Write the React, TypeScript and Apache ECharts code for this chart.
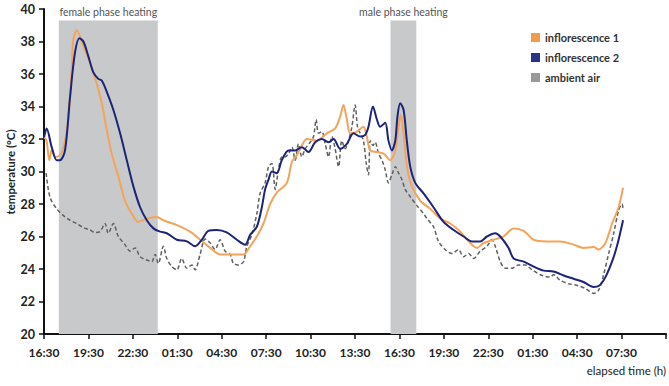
import React, { useEffect, useRef } from "react";
import * as echarts from "echarts";

// Elapsed time axis: hours since 16:30, one tick every 3 h
const xTickLabels = [
  "16:30", "19:30", "22:30", "01:30", "04:30", "07:30", "10:30",
  "13:30", "16:30", "19:30", "22:30", "01:30", "04:30", "07:30",
];

// Heating phases [start h, end h] and the shading ceiling (°C)
const femalePhase = [1.0, 7.68];
const malePhase = [23.4, 25.14];
const phaseTop = 39.3;

// inflorescence 1
const inflo1Hours = [
  0, 0.17, 0.36, 0.54, 0.74, 1.08, 1.35, 1.64, 1.87, 1.98, 2.21, 2.66, 3.11, 3.56, 3.9, 4.24,
  4.57, 5.02, 5.47, 5.93, 6.37, 6.94, 7.61, 8.06, 8.97, 9.86, 10.54, 11.22, 11.89, 12.79,
  13.47, 13.92, 14.37, 14.82, 15.27, 15.72, 16.4, 16.74, 17.07, 17.41, 17.75, 18.43, 19.1,
  19.66, 20.0, 20.22, 20.45, 20.68, 21.13, 21.57, 21.8, 22.03, 22.48, 22.93, 23.38, 23.72,
  23.94, 24.1, 24.28, 24.51, 24.84, 25.41, 26.08, 26.76, 27.43, 28.11, 28.67, 29.24, 29.68,
  30.36, 31.03, 31.71, 32.39, 33.06, 33.97, 34.86, 35.76, 36.43, 37.11, 37.45, 37.91, 38.36,
  38.8, 39.1,
];
const inflo1Temp = [
  32.1, 31.9, 30.7, 31.4, 30.9, 31.0, 31.6, 33.2, 36.2, 38.1, 38.7, 37.7, 36.7, 35.4, 34.2, 32.55,
  31.1, 29.7, 28.2, 27.4, 26.9, 27.1, 27.2, 27.0, 26.7, 26.3, 25.8, 25.3, 24.9, 24.9,
  24.9, 25.4, 26.0, 26.8, 28.0, 28.7, 29.3, 30.6, 31.0, 31.6, 32.0, 31.9, 32.35,
  32.65, 33.4, 34.1, 33.2, 32.35, 32.45, 32.75, 32.15, 31.3, 31.2, 31.1, 30.7, 31.3,
  32.75, 33.5, 32.35, 30.3, 29.1, 28.2, 27.7, 27.1, 26.8, 26.3, 25.7, 25.3, 25.6,
  25.8, 26.0, 26.5, 26.35, 25.8, 25.7, 25.7, 25.5, 25.3, 25.35, 25.2, 25.6, 26.8,
  27.8, 29.0,
];

// inflorescence 2
const inflo2Hours = [
  0, 0.18, 0.52, 0.86, 1.08, 1.42, 1.76, 2.09, 2.39, 2.66, 2.99, 3.33, 3.67, 3.9, 4.24, 4.68,
  5.14, 5.59, 6.03, 6.49, 6.94, 7.39, 7.84, 8.29, 8.97, 9.64, 10.2, 10.66, 11.1, 11.67, 12.34,
  13.02, 13.58, 13.92, 14.37, 14.71, 14.93, 15.16, 15.39, 15.72, 16.06, 16.51, 16.96, 17.41,
  17.86, 18.31, 18.76, 19.21, 19.55, 20.0, 20.45, 20.9, 21.35, 21.69, 21.91, 22.21, 22.48,
  22.7, 23.04, 23.26, 23.49, 23.72, 23.87, 24.05, 24.28, 24.51, 24.73, 25.07, 25.63, 26.3,
  26.98, 27.66, 28.33, 28.9, 29.46, 29.91, 30.47, 30.81, 31.37, 31.71, 32.39, 33.06, 33.74,
  34.41, 35.09, 35.76, 36.43, 37.11, 37.45, 37.91, 38.47, 38.8, 39.1,
];
const inflo2Temp = [
  32.1, 32.65, 31.5, 30.7, 30.7, 31.3, 34.6, 37.3, 38.2, 38.0, 37.1, 36.1, 35.7, 35.6, 34.9, 33.8,
  32.35, 30.7, 29.1, 27.8, 27.0, 26.5, 26.3, 26.2, 25.8, 25.7, 25.4, 25.8, 26.35, 26.4, 26.25,
  25.8, 25.5, 26.1, 26.6, 27.8, 28.9, 29.5, 30.0, 29.9, 30.7, 31.3, 31.3, 31.5,
  31.2, 31.8, 32.0, 31.8, 32.0, 31.4, 31.7, 32.35, 32.15, 32.25, 32.75, 34.0, 33.2,
  32.75, 33.0, 31.9, 31.3, 31.9, 33.4, 34.2, 33.8, 31.8, 30.3, 29.3, 28.65, 27.8,
  26.9, 26.4, 26.0, 25.7, 25.7, 26.0, 26.2, 26.0, 25.3, 24.65, 24.45, 24.15, 23.9,
  23.85, 23.6, 23.4, 23.2, 22.9, 22.95, 23.5, 24.75, 25.8, 27.0,
];

// ambient air
const ambientHours = [
  0.14, 0.41, 0.86, 1.3, 1.76, 2.21, 2.66, 3.11, 3.45, 3.78, 4.12, 4.34, 4.68, 5.02, 5.47,
  5.81, 6.15, 6.49, 6.94, 7.28, 7.5, 7.72, 8.06, 8.29, 8.63, 8.97, 9.3, 9.64, 9.98, 10.2,
  10.54, 10.88, 11.22, 11.55, 11.89, 12.23, 12.57, 12.79, 13.13, 13.47, 13.7, 14.03, 14.37,
  14.59, 14.93, 15.16, 15.39, 15.61, 15.83, 16.06, 16.28, 16.51, 16.74, 16.96, 17.18, 17.41,
  17.64, 17.97, 18.2, 18.38, 18.53, 18.76, 18.99, 19.21, 19.44, 19.66, 19.89, 20.11, 20.34,
  20.56, 20.79, 21.01, 21.17, 21.35, 21.57, 21.76, 21.91, 22.03, 22.21, 22.36, 22.59, 22.82,
  23.04, 23.26, 23.49, 23.72, 23.94, 24.17, 24.39, 24.73, 25.18, 25.63, 25.86, 26.3, 26.64,
  27.09, 27.55, 27.99, 28.33, 28.67, 29.01, 29.46, 29.91, 30.25, 30.47, 30.81, 31.15, 31.6,
  32.05, 32.5, 32.95, 33.51, 34.19, 34.41, 34.86, 35.39, 35.96, 36.55, 37.11, 37.45, 37.8,
  38.13, 38.47, 38.8, 39.03, 39.1,
];
const ambientTemp = [
  29.9, 28.4, 27.7, 27.3, 27.0, 26.8, 26.55, 26.4, 26.25, 26.3, 26.8, 26.2, 26.8, 26.0, 25.5,
  25.1, 25.3, 24.75, 24.55, 24.45, 24.9, 24.35, 25.4, 24.65, 24.15, 23.95, 24.65, 24.05, 24.25, 23.95,
  24.9, 25.85, 25.6, 25.2, 25.8, 25.1, 24.9, 24.35, 24.25, 24.45, 25.4, 26.1, 27.4,
  28.65, 29.3, 30.3, 30.5, 28.9, 30.1, 30.9, 30.9, 31.1, 31.5, 30.7, 31.7, 30.9,
  31.4, 31.8, 32.15, 33.2, 32.35, 32.45, 31.7, 30.9, 32.15, 31.4, 30.3, 31.9, 31.4,
  31.9, 32.75, 34.1, 32.75, 32.35, 31.9, 30.5, 29.8, 31.9, 31.6, 31.8, 31.1, 30.7,
  30.1, 29.3, 29.8, 30.3, 29.9, 29.5, 28.9, 28.45, 27.9, 27.4, 27.1, 26.6, 25.7,
  25.2, 24.95, 25.2, 24.75, 24.95, 24.65, 25.1, 25.4, 25.8, 25.4, 24.45, 24.05, 24.05,
  24.25, 24.25, 23.95, 23.65, 23.5, 23.65, 23.3, 23.1, 23.0, 22.8, 22.5, 22.7, 23.7,
  24.95, 26.2, 27.6, 28.0, 27.7,
];

const zip = (xs: number[], ys: number[]) => xs.map((x, i) => [x, ys[i]]);

const FONT = "Lato, 'Open Sans', sans-serif";
const AXIS_COLOR = "#111";

export default function App() {
  const ref = useRef<HTMLDivElement>(null);

  useEffect(() => {
    if (!ref.current) return;
    const chart = echarts.init(ref.current, null, { renderer: "svg" });

    const phaseLabel = (text: string) => ({
      show: true,
      position: "top" as const,
      distance: 3,
      formatter: text,
      color: "#555",
      fontSize: 10.5,
      fontFamily: FONT,
    });

    chart.setOption({
      animation: false,
      textStyle: { fontFamily: FONT },
      grid: {
        left: 44,
        right: 3,
        top: 9,
        bottom: 52,
        containLabel: false,
        outerBoundsMode: "none",
      },
      legend: {
        orient: "vertical",
        left: 526,
        top: 27,
        icon: "rect",
        itemWidth: 9,
        itemHeight: 9,
        itemGap: 9,
        textStyle: { fontSize: 11, fontWeight: "bold", color: "#333", fontFamily: FONT },
        data: [
          { name: "inflorescence 1", itemStyle: { color: "#F39A4B", borderWidth: 0 } },
          { name: "inflorescence 2", itemStyle: { color: "#263389", borderWidth: 0 } },
          { name: "ambient air", itemStyle: { color: "#9A9A9A", borderWidth: 0 } },
        ],
      },
      xAxis: {
        type: "value",
        min: 0,
        max: 42,
        interval: 3,
        splitLine: { show: false },
        axisLine: { lineStyle: { color: AXIS_COLOR, width: 2 } },
        axisTick: { length: 5, lineStyle: { color: AXIS_COLOR, width: 1.5 } },
        axisLabel: {
          margin: 12,
          fontSize: 12,
          fontWeight: "bold",
          color: "#222",
          fontFamily: FONT,
          formatter: (v: number) => xTickLabels[Math.round(v / 3)] ?? "",
        },
      },
      yAxis: {
        type: "value",
        min: 20,
        max: 40,
        interval: 2,
        splitLine: { show: false },
        axisLine: { show: true, lineStyle: { color: AXIS_COLOR, width: 2 } },
        axisTick: { show: true, length: 5, lineStyle: { color: AXIS_COLOR, width: 1.5 } },
        axisLabel: { margin: 9, fontSize: 12.5, fontWeight: "bold", color: "#222", fontFamily: FONT },
      },
      graphic: [
        {
          type: "text",
          x: 10,
          y: 172,
          rotation: Math.PI / 2,
          style: {
            text: "temperature (°C)",
            fontSize: 11.5,
            fontWeight: "bold",
            fill: "#222",
            fontFamily: FONT,
            align: "center",
            verticalAlign: "middle",
          },
        },
        {
          type: "text",
          right: 3,
          top: 364,
          style: { text: "elapsed time (h)", fontSize: 11.5, fill: "#222", fontFamily: FONT },
        },
      ],
      series: [
        {
          name: "phases",
          type: "line",
          data: [],
          z: 1,
          silent: true,
          markArea: {
            silent: true,
            itemStyle: { color: "#C8C9CB" },
            data: [
              [
                { xAxis: femalePhase[0], yAxis: 20, label: phaseLabel("female phase heating") },
                { xAxis: femalePhase[1], yAxis: phaseTop },
              ],
              [
                { xAxis: malePhase[0], yAxis: 20, label: phaseLabel("male phase heating") },
                { xAxis: malePhase[1], yAxis: phaseTop },
              ],
            ],
          },
        },
        {
          name: "ambient air",
          type: "line",
          z: 3,
          showSymbol: false,
          smooth: 0.3,
          data: zip(ambientHours, ambientTemp),
          itemStyle: { color: "#9A9A9A" },
          lineStyle: { color: "#606060", width: 1.5, type: [4, 2.5] },
        },
        {
          name: "inflorescence 1",
          type: "line",
          z: 4,
          showSymbol: false,
          smooth: 0.3,
          data: zip(inflo1Hours, inflo1Temp),
          itemStyle: { color: "#F39A4B" },
          lineStyle: { color: "#F4A45A", width: 2 },
        },
        {
          name: "inflorescence 2",
          type: "line",
          z: 5,
          showSymbol: false,
          smooth: 0.3,
          data: zip(inflo2Hours, inflo2Temp),
          itemStyle: { color: "#263389" },
          lineStyle: { color: "#1C2479", width: 2 },
        },
      ],
    });

    return () => chart.dispose();
  }, []);

  return <div ref={ref} style={{ width: 669, height: 386, position: "absolute", left: 0, top: 0 }} />;
}
